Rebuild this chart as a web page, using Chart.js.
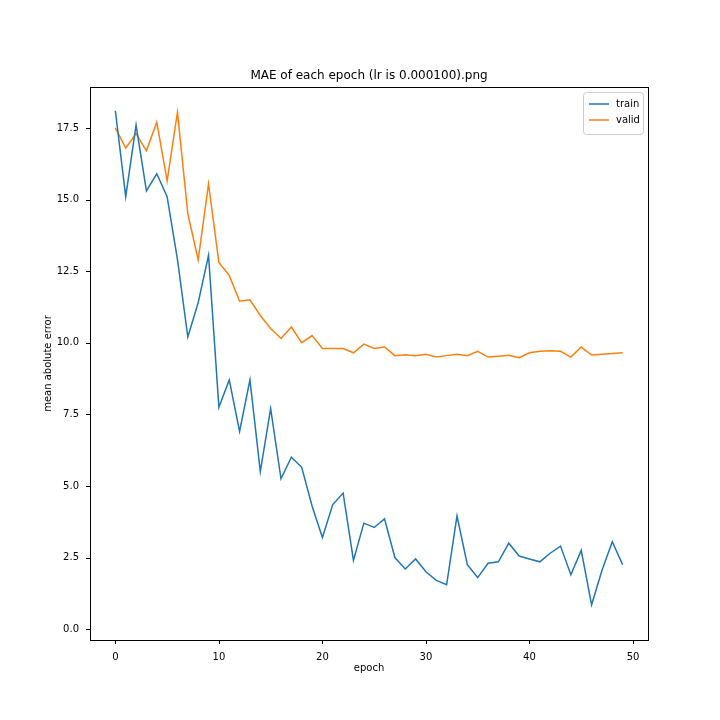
<!DOCTYPE html>
<html>
<head>
<meta charset="utf-8">
<script src="https://cdn.jsdelivr.net/npm/chart.js@4"></script>
<style>
  body { margin: 0; background: #fff; }
  #wrap { width: 720px; height: 720px; }
</style>
</head>
<body>
<div id="wrap"><canvas id="chart" width="720" height="720"></canvas></div>
<script>
// data
const epochs = Array.from({ length: 50 }, (_, i) => i);
const trainMae = [18.1, 15.1, 17.6, 15.3, 15.9, 15.1, 12.9, 10.2, 11.4, 13.05,
    7.75, 8.7, 6.9, 8.7, 5.5, 7.7, 5.25, 6.0, 5.65, 4.3,
    3.2, 4.35, 4.75, 2.4, 3.7, 3.55, 3.85, 2.5, 2.1, 2.45,
    2.0, 1.7, 1.55, 3.95, 2.25, 1.8, 2.3, 2.35, 3.0, 2.55,
    2.45, 2.35, 2.65, 2.9, 1.9, 2.75, 0.85, 2.05, 3.05, 2.25];
const validMae = [17.5, 16.8, 17.3, 16.7, 17.7, 15.65, 18.05, 14.5, 12.9, 15.55,
    12.8, 12.35, 11.45, 11.5, 10.95, 10.5, 10.15, 10.55, 10.0, 10.25,
    9.8, 9.8, 9.8, 9.65, 9.95, 9.8, 9.85, 9.55, 9.58, 9.55,
    9.6, 9.5, 9.55, 9.6, 9.55, 9.7, 9.5, 9.53, 9.56, 9.48,
    9.65, 9.7, 9.72, 9.7, 9.5, 9.85, 9.57, 9.6, 9.62, 9.65];
const xTicks = [0, 10, 20, 30, 40, 50];
const yTicks = [0, 2.5, 5, 7.5, 10, 12.5, 15, 17.5];
const chartTitle = 'MAE of each epoch (lr is 0.000100).png';

const font = { family: 'DejaVu Sans', size: 10 };

// matplotlib style legend box in the upper right
const boxLegend = {
    id: 'boxLegend',
    afterDraw(c) {
        const ctx = c.ctx, a = c.chartArea;
        const w = 60, h = 42, x = a.right - w - 5, y = a.top + 5;
        ctx.save();
        ctx.fillStyle = 'rgba(255,255,255,0.8)';
        ctx.strokeStyle = '#ccc';
        ctx.lineWidth = 1;
        ctx.beginPath();
        ctx.roundRect(x + 0.5, y + 0.5, w, h, 3);
        ctx.fill();
        ctx.stroke();
        ctx.font = '10px DejaVu Sans';
        ctx.textBaseline = 'middle';
        c.data.datasets.forEach((ds, i) => {
            const ly = y + 12 + i * 16;
            ctx.strokeStyle = ds.borderColor;
            ctx.lineWidth = 1.5;
            ctx.beginPath();
            ctx.moveTo(x + 6, ly);
            ctx.lineTo(x + 26, ly);
            ctx.stroke();
            ctx.fillStyle = '#000';
            ctx.fillText(ds.label, x + 33, ly);
        });
        ctx.restore();
    }
};

new Chart(document.getElementById('chart'), {
    type: 'line',
    data: {
        labels: epochs,
        datasets: [
            { label: 'train', data: trainMae, borderColor: '#1f77b4' },
            { label: 'valid', data: validMae, borderColor: '#ff7f0e' }
        ].map(d => Object.assign(d, { borderWidth: 1.5, pointRadius: 0, tension: 0, fill: false }))
    },
    options: {
        responsive: false,
        animation: false,
        layout: { padding: { left: 42, right: 72, top: 87, bottom: 44 } },
        plugins: {
            legend: { display: false },
            tooltip: { enabled: false }
        },
        scales: {
            x: {
                type: 'linear',
                min: -2.45,
                max: 51.45,
                afterBuildTicks: s => { s.ticks = xTicks.map(v => ({ value: v })); },
                afterFit: s => { s.height = 36; },
                grid: { display: false },
                border: { color: '#000' },
                ticks: { color: '#000', font: font, maxRotation: 0, padding: 3 },
                title: { display: true, text: 'epoch', color: '#000', font: font, padding: 2 }
            },
            y: {
                min: -0.38,
                max: 18.93,
                afterBuildTicks: s => { s.ticks = yTicks.map(v => ({ value: v })); },
                afterFit: s => { s.width = 48; },
                grid: { display: false },
                border: { color: '#000' },
                ticks: { color: '#000', font: font, callback: v => v.toFixed(1), padding: 3 },
                title: { display: true, text: 'mean abolute error', color: '#000', font: font, padding: 0 }
            }
        }
    },
    plugins: [boxLegend, {
        id: 'frame',
        afterDraw(c) {
            const ctx = c.ctx, a = c.chartArea;
            ctx.save();
            ctx.strokeStyle = '#000';
            ctx.lineWidth = 1;
            ctx.strokeRect(a.left + 0.5, a.top + 0.5, a.width, a.height);
            // tick marks
            ctx.beginPath();
            xTicks.forEach(v => {
                const px = Math.round(c.scales.x.getPixelForValue(v)) + 0.5;
                ctx.moveTo(px, a.bottom); ctx.lineTo(px, a.bottom + 4);
            });
            yTicks.forEach(v => {
                const py = Math.round(c.scales.y.getPixelForValue(v)) + 0.5;
                ctx.moveTo(a.left, py); ctx.lineTo(a.left - 4, py);
            });
            ctx.stroke();
            // title centred over the plot area
            ctx.fillStyle = '#000';
            ctx.font = '12px DejaVu Sans';
            ctx.textAlign = 'center';
            ctx.textBaseline = 'bottom';
            ctx.fillText(chartTitle, (a.left + a.right) / 2, a.top - 5);
            ctx.restore();
        }
    }]
});
</script>
</body>
</html>
